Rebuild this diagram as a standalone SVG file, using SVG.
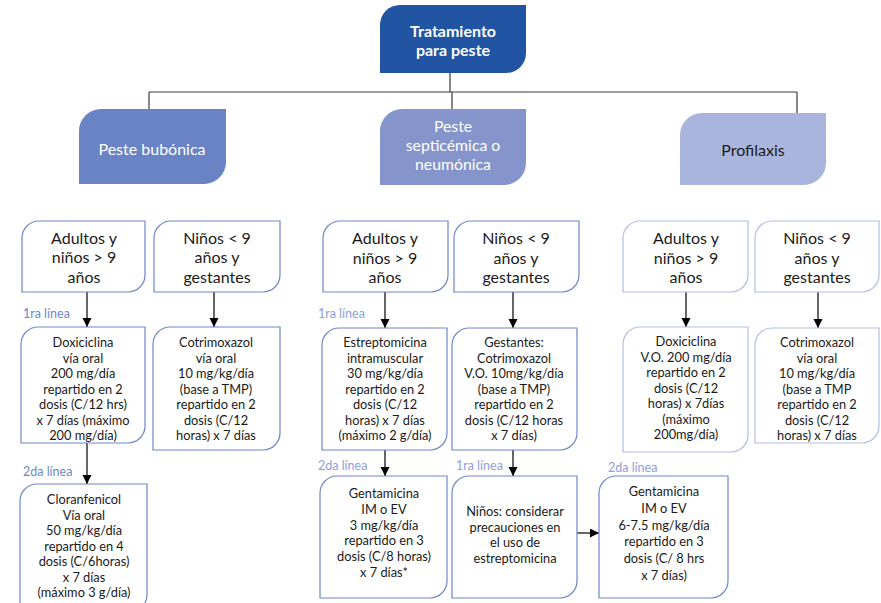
<svg xmlns="http://www.w3.org/2000/svg" width="881" height="603" viewBox="0 0 881 603">
  <style>
    .t { font-family: Lato, "Liberation Sans", sans-serif; text-anchor: middle; fill: #1a1a1a; }
    .h { font-size: 16px; }
    .c { font-size: 15.8px; }
    .s { font-size: 12.8px; }
    .w { fill: #ffffff; }
    .b { font-weight: bold; }
    .box { fill: #ffffff; stroke: #6f87c9; stroke-width: 1.2; }
    .lt { stroke: #b3bde6; }
    .lbl { font-family: Lato, "Liberation Sans", sans-serif; font-size: 12.5px; fill: #6f87c9; }
    .lbl2 { fill: #8fa0d8; }
    .tree { stroke: #3a3a3a; stroke-width: 1.2; fill: none; }
    .arr { stroke: #000000; stroke-width: 1.2; fill: none; marker-end: url(#ah); }
  </style>
  <defs>
    <marker id="ah" markerWidth="10" markerHeight="10" refX="9" refY="4.5" orient="auto" markerUnits="userSpaceOnUse">
      <path d="M0,0 L9,4.5 L0,9 Z" fill="#000000"/>
    </marker>
  </defs>
  <rect width="881" height="603" fill="#ffffff"/>

  <!-- connectors -->
  <g id="connectors">
    <path class="tree" d="M450,73 V92 M149,92 H797 M149,92 V109 M452,92 V109 M797,92 V113"/>
    <line class="arr" x1="87" y1="292" x2="87" y2="327"/>
    <line class="arr" x1="214" y1="292" x2="214" y2="327"/>
    <line class="arr" x1="87" y1="442" x2="87" y2="484"/>
    <line class="arr" x1="385" y1="292" x2="385" y2="328"/>
    <line class="arr" x1="513" y1="292" x2="513" y2="328"/>
    <line class="arr" x1="385" y1="450" x2="385" y2="476"/>
    <line class="arr" x1="513" y1="450" x2="513" y2="476"/>
    <line class="arr" x1="686" y1="292" x2="686" y2="327"/>
    <line class="arr" x1="818" y1="292" x2="818" y2="328"/>
    <line class="arr" x1="577" y1="533" x2="599" y2="533"/>
  </g>

  <!-- root -->
  <g id="root">
    <path d="M380,25 A20,20 0 0 1 400,5 H526 V53 A20,20 0 0 1 506,73 H380 Z" fill="#2155a3"/>
    <text class="t h b w" x="453" y="36.5">Tratamiento</text>
    <text class="t h b w" x="453" y="56">para peste</text>
  </g>

  <!-- categories -->
  <g id="cat-bubonica">
    <path d="M79,131 A22,22 0 0 1 101,109 H226 V162 A22,22 0 0 1 204,184 H79 Z" fill="#6a83c4"/>
    <text class="t h w" x="152" y="155">Peste bubónica</text>
  </g>
  <g id="cat-septicemica">
    <path d="M380,131 A22,22 0 0 1 402,109 H526 V163 A22,22 0 0 1 504,185 H380 Z" fill="#8595cb"/>
    <text class="t c w" x="453" y="132">Peste</text>
    <text class="t c w" x="453" y="151">septicémica o</text>
    <text class="t c w" x="453" y="170">neumónica</text>
  </g>
  <g id="cat-profilaxis">
    <path d="M680,135 A22,22 0 0 1 702,113 H826 V163 A22,22 0 0 1 804,185 H680 Z" fill="#aab5de"/>
    <text class="t h" x="753" y="156">Profilaxis</text>
  </g>

  <!-- column 1: peste bubónica -->
  <g id="c1-adultos">
    <path class="box" d="M22,238 A17,17 0 0 1 39,221 H145 V275 A17,17 0 0 1 128,292 H22 Z"/>
    <text class="t h" x="84" y="243.5">Adultos y</text>
    <text class="t h" x="84" y="263">niños &gt; 9</text>
    <text class="t h" x="84" y="282.5">años</text>
  </g>
  <g id="c1-ninos">
    <path class="box" d="M154,238 A17,17 0 0 1 171,221 H280 V275 A17,17 0 0 1 263,292 H154 Z"/>
    <text class="t h" x="217" y="243.5">Niños &lt; 9</text>
    <text class="t h" x="217" y="263">años y</text>
    <text class="t h" x="217" y="282.5">gestantes</text>
  </g>
  <text class="lbl" x="23" y="318">1ra línea</text>
  <g id="c1-doxiciclina">
    <path class="box" d="M21,344 A17,17 0 0 1 38,327 H145 V426 A17,17 0 0 1 128,443 H21 Z"/>
    <text class="t s" x="83" y="347">Doxiciclina</text>
    <text class="t s" x="83" y="362.5">vía oral</text>
    <text class="t s" x="83" y="378">200 mg/día</text>
    <text class="t s" x="83" y="393.5">repartido en 2</text>
    <text class="t s" x="83" y="409">dosis (C/12 hrs)</text>
    <text class="t s" x="83" y="424.5">x 7 días (máximo</text>
    <text class="t s" x="83" y="440">200 mg/día)</text>
  </g>
  <g id="c1-cotrimoxazol">
    <path class="box" d="M153,344 A17,17 0 0 1 170,327 H280 V433 A17,17 0 0 1 263,450 H153 Z"/>
    <text class="t s" x="216" y="347">Cotrimoxazol</text>
    <text class="t s" x="216" y="362.5">vía oral</text>
    <text class="t s" x="216" y="378">10 mg/kg/día</text>
    <text class="t s" x="216" y="393.5">(base a TMP)</text>
    <text class="t s" x="216" y="409">repartido en 2</text>
    <text class="t s" x="216" y="424.5">dosis (C/12</text>
    <text class="t s" x="216" y="440">horas) x 7 días</text>
  </g>
  <text class="lbl" x="23" y="476">2da línea</text>
  <g id="c1-cloranfenicol">
    <path class="box" d="M20,501 A17,17 0 0 1 37,484 H147 V595 A17,17 0 0 1 130,612 H20 Z"/>
    <text class="t s" x="84" y="504">Cloranfenicol</text>
    <text class="t s" x="84" y="519.5">Vía oral</text>
    <text class="t s" x="84" y="535">50 mg/kg/día</text>
    <text class="t s" x="84" y="550.5">repartido en 4</text>
    <text class="t s" x="84" y="566">dosis (C/6horas)</text>
    <text class="t s" x="84" y="581.5">x 7 días</text>
    <text class="t s" x="84" y="597">(máximo 3 g/día)</text>
  </g>

  <!-- column 2: peste septicémica o neumónica -->
  <g id="c2-adultos">
    <path class="box" d="M323,238 A17,17 0 0 1 340,221 H448 V275 A17,17 0 0 1 431,292 H323 Z"/>
    <text class="t h" x="385" y="244">Adultos y</text>
    <text class="t h" x="385" y="263.5">niños &gt; 9</text>
    <text class="t h" x="385" y="283">años</text>
  </g>
  <g id="c2-ninos">
    <path class="box" d="M454,238 A17,17 0 0 1 471,221 H579 V275 A17,17 0 0 1 562,292 H454 Z"/>
    <text class="t h" x="516" y="244">Niños &lt; 9</text>
    <text class="t h" x="516" y="263.5">años y</text>
    <text class="t h" x="516" y="283">gestantes</text>
  </g>
  <text class="lbl lbl2" x="318" y="318">1ra línea</text>
  <g id="c2-estreptomicina">
    <path class="box" d="M322,345 A17,17 0 0 1 339,328 H447 V433 A17,17 0 0 1 430,450 H322 Z"/>
    <text class="t s" x="385" y="347">Estreptomicina</text>
    <text class="t s" x="385" y="362.5">intramuscular</text>
    <text class="t s" x="385" y="378">30 mg/kg/día</text>
    <text class="t s" x="385" y="393.5">repartido en 2</text>
    <text class="t s" x="385" y="409">dosis (C/12</text>
    <text class="t s" x="385" y="424.5">horas) x 7 días</text>
    <text class="t s" x="385" y="440">(máximo 2 g/día)</text>
  </g>
  <g id="c2-gestantes">
    <path class="box" d="M452,345 A17,17 0 0 1 469,328 H577 V433 A17,17 0 0 1 560,450 H452 Z"/>
    <text class="t s" x="514" y="347">Gestantes:</text>
    <text class="t s" x="514" y="362.5">Cotrimoxazol</text>
    <text class="t s" x="514" y="378">V.O. 10mg/kg/día</text>
    <text class="t s" x="514" y="393.5">(base a TMP)</text>
    <text class="t s" x="514" y="409">repartido en 2</text>
    <text class="t s" x="514" y="424.5">dosis (C/12 horas</text>
    <text class="t s" x="514" y="440">x 7 días)</text>
  </g>
  <text class="lbl lbl2" x="318" y="470">2da línea</text>
  <g id="c2-gentamicina">
    <path class="box" d="M320,493 A17,17 0 0 1 337,476 H447 V581 A17,17 0 0 1 430,598 H320 Z"/>
    <text class="t s" x="384" y="498">Gentamicina</text>
    <text class="t s" x="384" y="513.8">IM o EV</text>
    <text class="t s" x="384" y="529.6">3 mg/kg/día</text>
    <text class="t s" x="384" y="545.4">repartido en 3</text>
    <text class="t s" x="384" y="561.2">dosis (C/8 horas)</text>
    <text class="t s" x="384" y="577">x 7 días*</text>
  </g>
  <text class="lbl lbl2" x="456" y="470">1ra línea</text>
  <g id="c2-ninos-precauciones">
    <path class="box" d="M452,493 A17,17 0 0 1 469,476 H577 V581 A17,17 0 0 1 560,598 H452 Z"/>
    <text class="t s" x="515" y="516">Niños: considerar</text>
    <text class="t s" x="515" y="531.5">precauciones en</text>
    <text class="t s" x="515" y="547">el uso de</text>
    <text class="t s" x="515" y="562.5">estreptomicina</text>
  </g>
  <text class="lbl lbl2" x="608" y="472">2da línea</text>
  <g id="c2-gentamicina-ninos">
    <path class="box" d="M599,493 A17,17 0 0 1 616,476 H728 V581 A17,17 0 0 1 711,598 H599 Z"/>
    <text class="t s" x="664" y="496">Gentamicina</text>
    <text class="t s" x="664" y="512.8">IM o EV</text>
    <text class="t s" x="664" y="529.6">6-7.5 mg/kg/día</text>
    <text class="t s" x="664" y="546.4">repartido en 3</text>
    <text class="t s" x="664" y="563.2">dosis (C/ 8 hrs</text>
    <text class="t s" x="664" y="580">x 7 días)</text>
  </g>

  <!-- column 3: profilaxis -->
  <g id="c3-adultos">
    <path class="box lt" d="M623,238 A17,17 0 0 1 640,221 H748 V275 A17,17 0 0 1 731,292 H623 Z"/>
    <text class="t h" x="686" y="244">Adultos y</text>
    <text class="t h" x="686" y="263.5">niños &gt; 9</text>
    <text class="t h" x="686" y="283">años</text>
  </g>
  <g id="c3-ninos">
    <path class="box lt" d="M755,238 A17,17 0 0 1 772,221 H879 V275 A17,17 0 0 1 862,292 H755 Z"/>
    <text class="t h" x="817" y="244">Niños &lt; 9</text>
    <text class="t h" x="817" y="263.5">años y</text>
    <text class="t h" x="817" y="283">gestantes</text>
  </g>
  <g id="c3-doxiciclina">
    <path class="box lt" d="M623,344 A17,17 0 0 1 640,327 H748 V435 A17,17 0 0 1 731,452 H623 Z"/>
    <text class="t s" x="686" y="346">Doxiciclina</text>
    <text class="t s" x="686" y="361.5">V.O.  200 mg/día</text>
    <text class="t s" x="686" y="377">repartido en 2</text>
    <text class="t s" x="686" y="392.5">dosis (C/12</text>
    <text class="t s" x="686" y="408">horas) x 7días</text>
    <text class="t s" x="686" y="423.5">(máximo</text>
    <text class="t s" x="686" y="439">200mg/día)</text>
  </g>
  <g id="c3-cotrimoxazol">
    <path class="box lt" d="M755,345 A17,17 0 0 1 772,328 H879 V426 A17,17 0 0 1 862,443 H755 Z"/>
    <text class="t s" x="817" y="347">Cotrimoxazol</text>
    <text class="t s" x="817" y="362.5">vía oral</text>
    <text class="t s" x="817" y="378">10 mg/kg/día</text>
    <text class="t s" x="817" y="393.5">(base a TMP</text>
    <text class="t s" x="817" y="409">repartido en 2</text>
    <text class="t s" x="817" y="424.5">dosis (C/12</text>
    <text class="t s" x="817" y="440">horas) x 7 días</text>
  </g>
</svg>
